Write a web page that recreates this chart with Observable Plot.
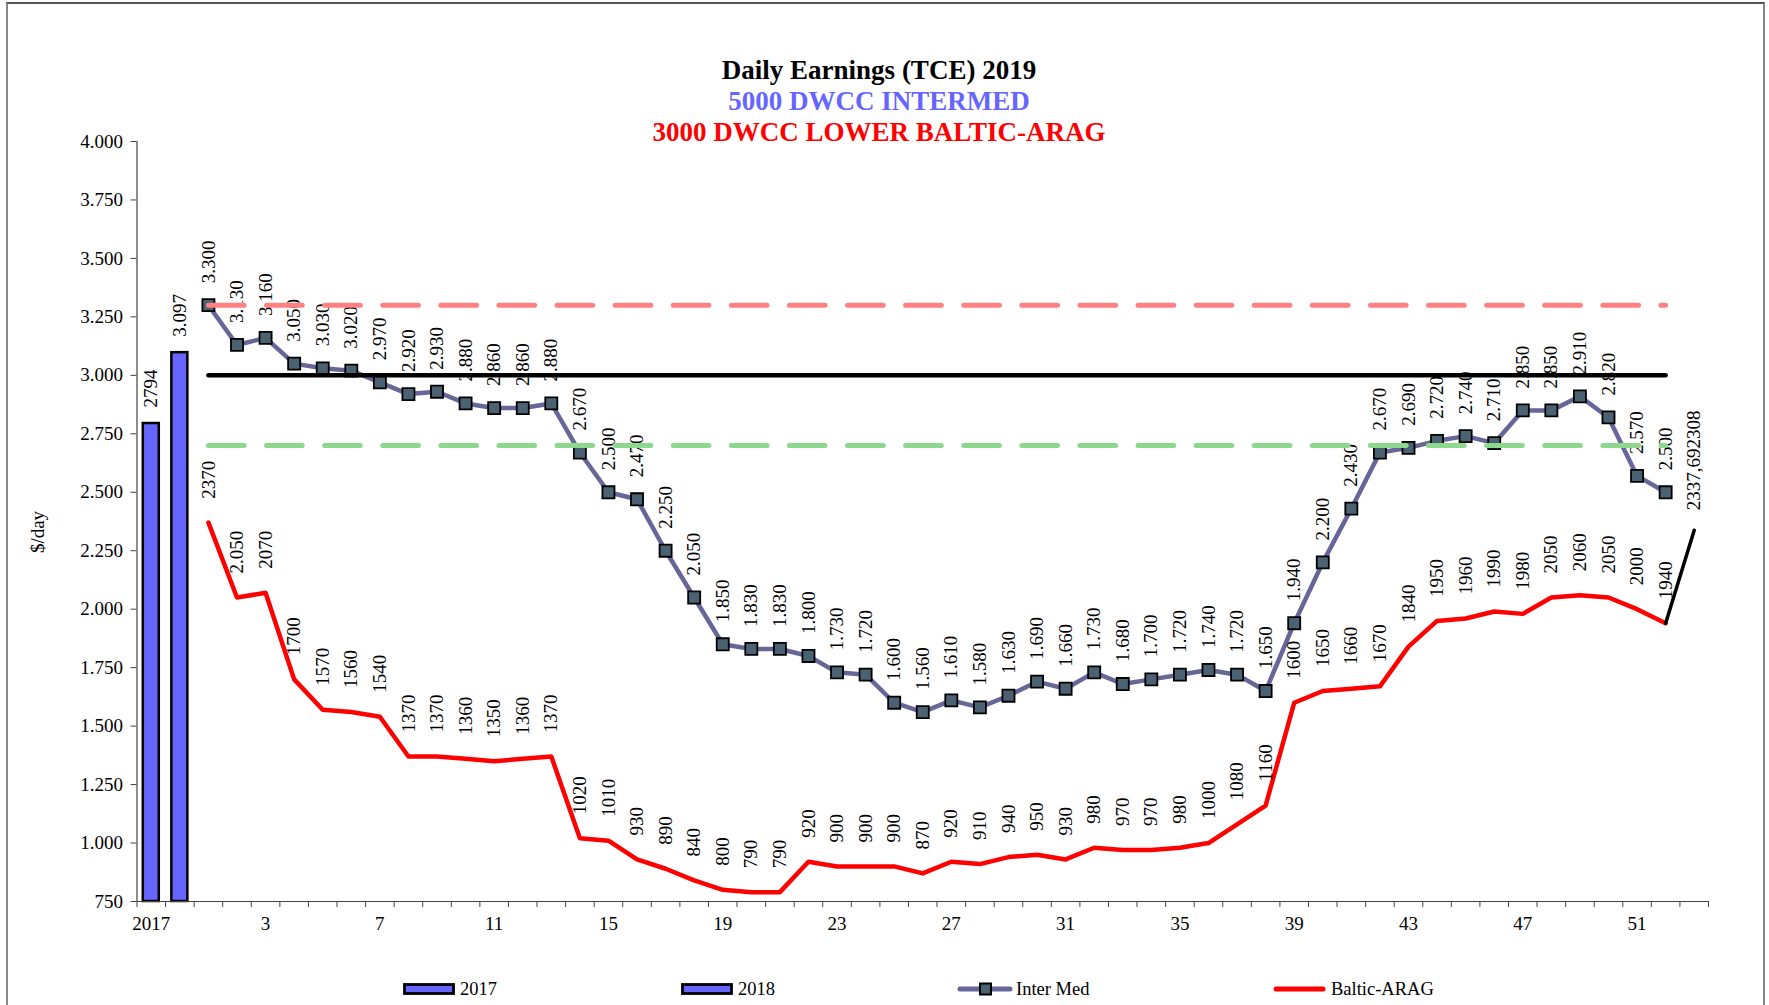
<!DOCTYPE html>
<html>
<head>
<meta charset="utf-8">
<script src="https://cdn.jsdelivr.net/npm/d3@7"></script>
<script src="https://cdn.jsdelivr.net/npm/@observablehq/plot@0.6"></script>
<style>
  html, body { margin: 0; padding: 0; background: white; overflow: hidden; }
  #wrap { position: relative; width: 1769px; height: 1005px; font-family: "Liberation Serif", "Times New Roman", serif; }
  #frame { position: absolute; left: 6px; top: 2px; width: 1755px; height: 1020px; border-left: 2px solid #888; border-right: 2px solid #888; border-top: 2px solid #555; }
  #chart { position: absolute; left: 0; top: 0; }
  #titles { position: absolute; left: 0; top: 55px; width: 1758px; text-align: center; font-weight: bold; font-size: 27px; line-height: 31px; font-family: "Liberation Serif", "Times New Roman", serif; }
  #ylab { position: absolute; left: 38px; top: 532px; transform: translate(-50%, -50%) rotate(-90deg); font-size: 19px; white-space: nowrap; }
  .leg { position: absolute; top: 980px; font-size: 18.5px; line-height: 19px; white-space: nowrap; }
  .sw { position: absolute; }
</style>
</head>
<body>
<div id="wrap">
  <div id="frame"></div>
  <div id="chart"></div>
  <div id="titles">
    <div style="color:#000">Daily Earnings (TCE) 2019</div>
    <div style="color:#6666FF">5000 DWCC INTERMED</div>
    <div style="color:#FF0000">3000 DWCC LOWER BALTIC-ARAG</div>
  </div>
  <div id="ylab">$/day</div>
  <div id="legend"></div>
</div>
<script>
// ---------- data ----------
const categories = ["2017","2018","1","2","3","4","5","6","7","8","9","10","11","12","13","14","15","16","17","18","19","20","21","22","23","24","25","26","27","28","29","30","31","32","33","34","35","36","37","38","39","40","41","42","43","44","45","46","47","48","49","50","51","52","53"];
const xTickLabels = ["2017","3","7","11","15","19","23","27","31","35","39","43","47","51"];
const yTicks = [750,1000,1250,1500,1750,2000,2250,2500,2750,3000,3250,3500,3750,4000];

const barYears = ["2017","2018"];
const barValues = [2794, 3097];
const barLabels = ["2794", "3.097"];

const weeks = [1,2,3,4,5,6,7,8,9,10,11,12,13,14,15,16,17,18,19,20,21,22,23,24,25,26,27,28,29,30,31,32,33,34,35,36,37,38,39,40,41,42,43,44,45,46,47,48,49,50,51,52];
const interMed = [3300,3130,3160,3050,3030,3020,2970,2920,2930,2880,2860,2860,2880,2670,2500,2470,2250,2050,1850,1830,1830,1800,1730,1720,1600,1560,1610,1580,1630,1690,1660,1730,1680,1700,1720,1740,1720,1650,1940,2200,2430,2670,2690,2720,2740,2710,2850,2850,2910,2820,2570,2500];
const balticArag = [2370,2050,2070,1700,1570,1560,1540,1370,1370,1360,1350,1360,1370,1020,1010,930,890,840,800,790,790,920,900,900,900,870,920,910,940,950,930,980,970,970,980,1000,1080,1160,1600,1650,1660,1670,1840,1950,1960,1990,1980,2050,2060,2050,2000,1940];
const balticDottedWeeks = [2];

const refHigh = 3300, refMid = 3000, refLow = 2700;

const tailWeeks = [52, 53];
const tailValues = [1940, 2337.692308];
const tailLabels = ["", "2337,692308"];

// ---------- helpers ----------
const idx = c => categories.indexOf(String(c));
const fmtDot = v => v >= 1000 ? (v / 1000).toFixed(3) : String(v);

const barData = barYears.map((c, i) => ({x: idx(c), v: barValues[i], label: barLabels[i]}));
const interData = weeks.map((w, i) => ({x: idx(w), v: interMed[i], label: fmtDot(interMed[i])}));
const balticData = weeks.map((w, i) => ({x: idx(w), v: balticArag[i], label: balticDottedWeeks.includes(w) ? fmtDot(balticArag[i]) : String(balticArag[i])}));
const refData = (val) => [weeks[0], weeks[weeks.length - 1]].map(w => ({x: idx(w), v: val}));
const tailData = tailWeeks.map((w, i) => ({x: idx(w), v: tailValues[i], label: tailLabels[i]}));
const boundaries = categories.map((c, i) => i - 0.5).concat([categories.length - 0.5]);

const FONT = 19;
const dash = [35.7, 22.4];

const chart = Plot.plot({
  width: 1769,
  height: 1005,
  marginLeft: 136.5,
  marginRight: 61,
  marginTop: 141,
  marginBottom: 104,
  style: {fontFamily: "Liberation Serif, Times New Roman, serif", fontSize: FONT + "px", background: "transparent", color: "black", overflow: "visible"},
  x: {type: "linear", domain: [-0.5, categories.length - 0.5], axis: null},
  y: {type: "linear", domain: [750, 4000], axis: null},
  marks: [
    // axes
    Plot.axisY({ticks: yTicks, label: null, tickSize: 6, tickPadding: 8, tickFormat: fmtDot, stroke: "#444", fill: "black", fontSize: FONT}),
    Plot.axisX({ticks: boundaries, label: null, tickSize: 6, tickFormat: () => "", stroke: "#444"}),
    Plot.axisX({ticks: xTickLabels.map(idx), label: null, tickSize: 0, tickPadding: 15, tickFormat: i => categories[i], fill: "black", fontSize: FONT}),
    // bars
    Plot.rectY(barData, {x1: d => d.x - 0.28, x2: d => d.x + 0.28, y1: 750, y2: "v", fill: "#6666FF", stroke: "black", strokeWidth: 2.5}),
    Plot.text(barData, {x: "x", y: "v", text: "label", rotate: -90, textAnchor: "start", dy: -16, fontSize: FONT, fill: "black"}),
    // Baltic line
    Plot.line(balticData, {x: "x", y: "v", stroke: "#FF0000", strokeWidth: 4.5, strokeLinejoin: "round"}),
    // Inter Med line + markers
    Plot.line(interData, {x: "x", y: "v", stroke: "#666699", strokeWidth: 4.5, strokeLinejoin: "round"}),
    Plot.dot(interData, {x: "x", y: "v", symbol: "square", r: 6.8, fill: "#4b6272", stroke: "black", strokeWidth: 1.8}),
    Plot.text(interData, {x: "x", y: "v", text: "label", rotate: -90, textAnchor: "start", dy: -22, fontSize: FONT, fill: "black"}),
    Plot.text(balticData, {x: "x", y: "v", text: "label", rotate: -90, textAnchor: "start", dy: -24, fontSize: FONT, fill: "black"}),
    // tail segment
    Plot.line(tailData, {x: "x", y: "v", stroke: "black", strokeWidth: 3.5}),
    Plot.text(tailData, {x: "x", y: "v", text: "label", rotate: -90, textAnchor: "start", dy: -20, fontSize: FONT, fill: "black"}),
    // reference lines
    Plot.line(refData(refHigh), {x: "x", y: "v", stroke: "#FF8080", strokeWidth: 5, strokeDasharray: dash.join(","), strokeLinecap: "round"}),
    Plot.line(refData(refLow), {x: "x", y: "v", stroke: "#8CD88C", strokeWidth: 5, strokeDasharray: dash.join(","), strokeLinecap: "round"}),
    Plot.line(refData(refMid), {x: "x", y: "v", stroke: "black", strokeWidth: 4.5, strokeLinecap: "round"}),
    Plot.ruleY([750], {stroke: "#444", strokeWidth: 1.2}),
    Plot.ruleX([-0.5], {stroke: "#444", strokeWidth: 1.2})
  ]
});
document.getElementById("chart").appendChild(chart);

// ---------- legend ----------
const legendItems = [
  {label: "2017", kind: "bar", sw: 403, tx: 460},
  {label: "2018", kind: "bar", sw: 681, tx: 738},
  {label: "Inter Med", kind: "marker", sw: 957, tx: 1016},
  {label: "Baltic-ARAG", kind: "line", sw: 1273, tx: 1331}
];
const legend = document.getElementById("legend");
for (const it of legendItems) {
  const s = document.createElementNS("http://www.w3.org/2000/svg", "svg");
  s.setAttribute("class", "sw");
  s.setAttribute("width", 60); s.setAttribute("height", 20);
  s.style.left = it.sw + "px"; s.style.top = "979px";
  if (it.kind === "bar") {
    s.innerHTML = '<rect x="1.5" y="5.5" width="49" height="9" fill="#6666FF" stroke="black" stroke-width="2.8"/>';
  } else if (it.kind === "marker") {
    s.innerHTML = '<line x1="3" y1="10" x2="53" y2="10" stroke="#666699" stroke-width="5" stroke-linecap="round"/>' +
      '<rect x="23" y="4.5" width="11" height="11" fill="#4b6272" stroke="black" stroke-width="2"/>';
  } else {
    s.innerHTML = '<line x1="3" y1="10" x2="50" y2="10" stroke="#FF0000" stroke-width="5" stroke-linecap="round"/>';
  }
  legend.appendChild(s);
  const t = document.createElement("div");
  t.className = "leg";
  t.style.left = it.tx + "px";
  t.textContent = it.label;
  legend.appendChild(t);
}
</script>
</body>
</html>
